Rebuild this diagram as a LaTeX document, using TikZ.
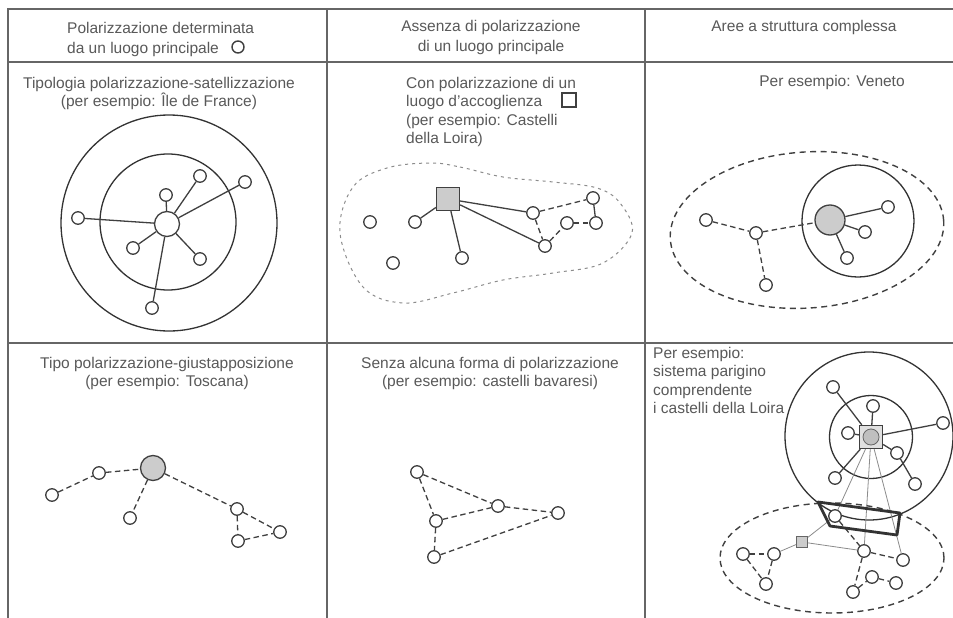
\documentclass[tikz,border=0pt]{standalone}
\usepackage{fontspec}
\setmainfont{Liberation Sans}
\begin{document}
\begin{tikzpicture}[x=1pt,y=-1pt,
  grid/.style={draw=black!60, line width=1.5pt},
  txt/.style={inner sep=0pt, text=black!65, font=\fontsize{15.5}{18.5}\selectfont},
  hdr/.style={txt, font=\fontsize{15.5}{20}\selectfont},
  ink/.style={draw=black!75, line width=1.3pt},
  dlink/.style={ink, dash pattern=on 5.5pt off 3.5pt},
  faint/.style={draw=black!45, line width=0.8pt},
  site/.style={circle, draw=black!75, line width=1.3pt, fill=white, inner sep=0pt, minimum size=12.5pt},
  hub/.style={circle, draw=black!75, line width=1.3pt, fill=black!20, inner sep=0pt, minimum size=25pt},
  core/.style={circle, draw=black!75, line width=1.3pt, fill=white, inner sep=0pt, minimum size=25pt},
  port/.style={rectangle, draw=black!75, line width=1.3pt, fill=black!20, inner sep=0pt, minimum size=23pt},
  ring/.style={circle, draw=black!80, line width=1.3pt, inner sep=0pt}
]
\useasboundingbox (0,0) rectangle (953,618);
\fill[white] (0,0) rectangle (953,618);

% table frame
\draw[grid] (8,618) -- (8,9) -- (953,9);
\draw[grid] (8,62) -- (953,62);
\draw[grid] (8,343) -- (953,343);
\draw[grid] (327,9) -- (327,618);
\draw[grid] (645,9) -- (645,618);

% column headings
\node[hdr, anchor=north west, align=left] (h1) at (67,22) {Polarizzazione determinata\\da un luogo principale};
\node[site, minimum size=12pt, line width=1.4pt] (h1mark) at (238,47) {};
\node[hdr, anchor=north, align=center] (h2) at (491,20) {Assenza di polarizzazione\\di un luogo principale};
\node[hdr, anchor=north] (h3) at (804,20) {Aree a struttura complessa};

% ---------- polarisation / satellisation ----------
\node[txt, anchor=north, align=center] (tA) at (159,77) {Tipologia polarizzazione-satellizzazione\\(per esempio: Île de France)};
\node[ring, minimum size=216pt] (ringAo) at (169,223) {};
\node[ring, minimum size=136pt] (ringAi) at (168,222) {};
\node[core] (cA) at (167,224) {};
\foreach \n/\p in {a1/{(200,176)}, a2/{(245,182)}, a3/{(166,195)}, a4/{(78,218)}, a5/{(133,248)}, a6/{(200,259)}, a7/{(152,308)}} {
  \node[site] (\n) at \p {};
  \draw[ink] (cA) -- (\n);
}

% ---------- reception place ----------
\node[txt, anchor=north west, align=left] (tB) at (406,77) {Con polarizzazione di un\\luogo d'accoglienza\\(per esempio: Castelli\\della Loira)};
\node[rectangle, draw=black!75, line width=1.4pt, inner sep=0pt, minimum size=14pt] (tBmark) at (569,100) {};
\draw[draw=black!45, line width=1pt, dash pattern=on 3pt off 4pt]
  plot[smooth cycle, tension=0.6] coordinates {(430,163) (460,167) (503,177) (553,182) (597,188) (620,203) (632,233) (603,263) (553,273) (503,280) (453,293) (403,303) (363,287) (340,233) (353,187) (387,168)};
\node[port] (pB) at (448,199) {};
\node[site] (b1) at (370,222) {};
\node[site] (b2) at (415,222) {};
\node[site] (b3) at (393,263) {};
\node[site] (b4) at (462,258) {};
\node[site] (b5) at (533,213) {};
\node[site] (b6) at (545,246) {};
\node[site] (b7) at (593,198) {};
\node[site] (b8) at (567,223) {};
\node[site] (b9) at (596,223) {};
\draw[ink] (pB) -- (b2);
\draw[ink] (pB) -- (b4);
\draw[ink] (pB) -- (b5);
\draw[ink] (pB) -- (b6);
\draw[dlink] (b5) -- (b7);
\draw[dlink] (b5) -- (b6);
\draw[dlink] (b6) -- (b8);
\draw[dlink] (b8) -- (b9);
\draw[ink] (b7) -- (b9);

% ---------- complex structure: Veneto ----------
\node[txt, anchor=north] (tC) at (832,75) {Per esempio: Veneto};
\draw[ink, dash pattern=on 6pt off 4.5pt, line width=1.4pt] (807,230) ellipse [x radius=137pt, y radius=78pt, rotate=4];
\node[ring, minimum size=112pt] (ringC) at (858,221) {};
\node[hub, minimum size=30pt] (hC) at (830,220) {};
\node[site] (c1) at (888,207) {};
\node[site] (c2) at (865,232) {};
\node[site] (c3) at (847,258) {};
\node[site] (c4) at (706,220) {};
\node[site] (c5) at (756,233) {};
\node[site] (c6) at (766,285) {};
\draw[ink] (hC) -- (c1);
\draw[ink] (hC) -- (c2);
\draw[ink] (hC) -- (c3);
\draw[dlink] (c4) -- (c5);
\draw[dlink] (c5) -- (hC);
\draw[dlink] (c5) -- (c6);

% ---------- polarisation / juxtaposition ----------
\node[txt, anchor=north, align=center] (tD) at (167,357) {Tipo polarizzazione-giustapposizione\\(per esempio: Toscana)};
\node[hub] (hD) at (153,468) {};
\node[site] (d1) at (99,473) {};
\node[site] (d2) at (52,495) {};
\node[site] (d3) at (130,518) {};
\node[site] (d4) at (237,509) {};
\node[site] (d5) at (280,532) {};
\node[site] (d6) at (238,541) {};
\draw[dlink] (d2) -- (d1);
\draw[dlink] (d1) -- (hD);
\draw[dlink] (hD) -- (d3);
\draw[dlink] (hD) -- (d4);
\draw[dlink] (d4) -- (d5);
\draw[dlink] (d4) -- (d6);
\draw[dlink] (d6) -- (d5);

% ---------- no polarisation ----------
\node[txt, anchor=north, align=center] (tE) at (490,357) {Senza alcuna forma di polarizzazione\\(per esempio: castelli bavaresi)};
\node[site] (e1) at (417,472) {};
\node[site] (e2) at (436,521) {};
\node[site] (e3) at (498,506) {};
\node[site] (e4) at (558,513) {};
\node[site] (e5) at (434,557) {};
\draw[dlink] (e1) -- (e2);
\draw[dlink] (e1) -- (e3);
\draw[dlink] (e2) -- (e3);
\draw[dlink] (e3) -- (e4);
\draw[dlink] (e5) -- (e4);
\draw[dlink] (e2) -- (e5);

% ---------- Paris system with the Loire castles ----------
\node[txt, anchor=north west, align=left] (tF) at (653,347) {Per esempio:\\sistema parigino\\comprendente\\i castelli della Loira};
\node[ring, minimum size=168pt] (ringFo) at (869,436) {};
\node[ring, minimum size=83pt] (ringFi) at (871,437) {};
\draw[ink, dash pattern=on 6pt off 4.5pt, line width=1.4pt] (832,558) ellipse [x radius=112pt, y radius=55pt];
\node[port, fill=black!12] (sqF) at (871,437) {};
\node[circle, draw=black!60, line width=0.8pt, fill=black!25, inner sep=0pt, minimum size=16pt] (hF) at (871,437) {};
\node[site] (f1) at (833,387) {};
\node[site] (f2) at (873,406) {};
\node[site] (f3) at (848,433) {};
\node[site] (f4) at (943,423) {};
\node[site] (f5) at (897,453) {};
\node[site] (f6) at (915,484) {};
\node[site] (f7) at (835,478) {};
\draw[ink] (sqF) -- (f1);
\draw[ink] (sqF) -- (f2);
\draw[ink] (sqF) -- (f3);
\draw[ink] (sqF) -- (f4);
\draw[ink] (sqF) -- (f5);
\draw[ink] (f5) -- (f6);
\draw[ink] (sqF) -- (f7);
% Loire cluster
\node[site] (g1) at (835,516) {};
\node[rectangle, draw=black!60, line width=0.9pt, fill=black!20, inner sep=0pt, minimum size=11pt] (gq) at (802,542) {};
\node[site] (g2) at (743,554) {};
\node[site] (g3) at (774,554) {};
\node[site] (g4) at (766,584) {};
\node[site] (g5) at (864,551) {};
\node[site] (g6) at (903,560) {};
\node[site] (g7) at (872,577) {};
\node[site] (g8) at (896,583) {};
\node[site] (g9) at (853,592) {};
\draw[faint] (sqF) -- (g1);
\draw[faint] (sqF) -- (g5);
\draw[faint] (sqF) -- (g6);
\draw[faint] (gq) -- (g1);
\draw[faint] (gq) -- (g5);
\draw[faint] (gq) -- (g3);
\draw[dlink] (g2) -- (g3);
\draw[dlink] (g2) -- (g4);
\draw[dlink] (g3) -- (g4);
\draw[dlink] (g1) -- (g5);
\draw[dlink] (g5) -- (g6);
\draw[dlink] (g5) -- (g9);
\draw[dlink] (g9) -- (g7);
\draw[dlink] (g7) -- (g8);
% link zone between the two systems
\draw[draw=black!80, line width=2.8pt, line join=round] (818,502) -- (900,513) -- (897,535) -- (830,526) -- cycle;
\end{tikzpicture}
\end{document}
